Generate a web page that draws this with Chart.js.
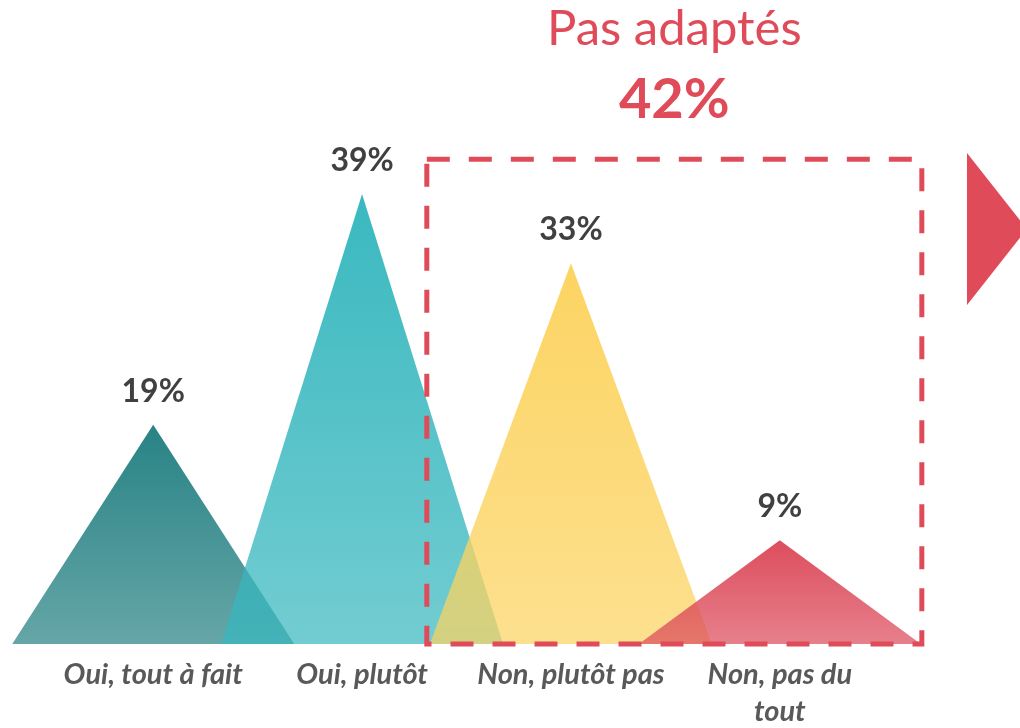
<!DOCTYPE html>
<html>
<head>
<meta charset="utf-8">
<script src="https://cdn.jsdelivr.net/npm/chart.js@4/dist/chart.umd.min.js"></script>
<style>
  html, body { margin: 0; padding: 0; background: #fff; }
  #wrap { width: 1020px; height: 728px; position: relative; }
</style>
</head>
<body>
<div id="wrap"><canvas id="chart"></canvas></div>
<script>
// Data
const categories = ['Oui, tout à fait', 'Oui, plutôt', 'Non, plutôt pas', 'Non, pas du tout'];
const values = [19, 39, 33, 9];
const tickLabels = [['Oui, tout à fait'], ['Oui, plutôt'], ['Non, plutôt pas'], ['Non, pas du', 'tout']];
const highlightTitle = 'Pas adaptés';
const highlightValue = 42;
const highlightFrom = 2; // index of first "Non"
const highlightTo = 3;
const baseColors = ['36,128,130', '54,183,190', '252,211,95', '220,74,90'];

const RED = '#E04B5A';
const HALF_BASE = 0.675; // half width of each peak, in category units

// Build triangle shaped line datasets
const datasets = values.map((v, i) => ({
  label: categories[i],
  data: [
    { x: i - HALF_BASE, y: 0 },
    { x: i, y: v },
    { x: i + HALF_BASE, y: 0 }
  ],
  fill: 'origin',
  borderWidth: 0,
  pointRadius: 0,
  tension: 0,
  order: values.length - i, // right-most peak on top
  backgroundColor: (ctx) => {
    const chart = ctx.chart;
    const { chartArea, scales } = chart;
    if (!chartArea) return `rgba(${baseColors[i]},0.85)`;
    const top = scales.y.getPixelForValue(v);
    const bottom = scales.y.getPixelForValue(0);
    const g = chart.ctx.createLinearGradient(0, top, 0, bottom);
    g.addColorStop(0, `rgba(${baseColors[i]},0.98)`);
    g.addColorStop(1, `rgba(${baseColors[i]},0.7)`);
    return g;
  }
}));

// Labels, highlight box, title and arrow
const decorations = {
  id: 'decorations',
  afterDatasetsDraw(chart) {
    const c = chart.ctx;
    const x = chart.scales.x, y = chart.scales.y;

    // value labels above each apex
    c.save();
    c.fillStyle = '#404040';
    c.font = "bold 32px Lato";
    c.textAlign = 'center';
    c.textBaseline = 'alphabetic';
    values.forEach((v, i) => {
      c.fillText(v + '%', x.getPixelForValue(i), y.getPixelForValue(v) - 23);
    });
    c.restore();

    // dashed box around the "Non" answers
    const left = x.getPixelForValue(highlightFrom - 0.69);
    const right = x.getPixelForValue(highlightTo + 0.68);
    const top = y.getPixelForValue(highlightValue);
    const bottom = y.getPixelForValue(0);
    c.save();
    c.strokeStyle = RED;
    c.lineWidth = 5;
    c.setLineDash([23, 19]);
    c.strokeRect(left, top, right - left, bottom - top);
    c.restore();

    // title above the box
    const cx = (left + right) / 2;
    c.save();
    c.fillStyle = RED;
    c.textAlign = 'center';
    c.textBaseline = 'alphabetic';
    c.font = "49px Lato";
    c.fillText(highlightTitle, cx, 45);
    c.font = "bold 56px Lato";
    c.fillText(highlightValue + '%', cx, 118);
    c.restore();

    // arrow on the right edge
    c.save();
    c.fillStyle = RED;
    c.beginPath();
    c.moveTo(967, 153);
    c.lineTo(1027, 229);
    c.lineTo(967, 305);
    c.closePath();
    c.fill();
    c.restore();
  }
};

new Chart(document.getElementById('chart'), {
  type: 'line',
  data: { datasets: datasets },
  options: {
    responsive: true,
    maintainAspectRatio: false,
    animation: false,
    layout: { padding: { top: 67, left: 7, right: 94, bottom: 0 } },
    plugins: {
      legend: { display: false },
      tooltip: { enabled: false }
    },
    scales: {
      x: {
        type: 'linear',
        min: -0.7,
        max: 3.7,
        grid: { display: false, drawTicks: false },
        border: { display: false },
        afterBuildTicks: (scale) => {
          scale.ticks = categories.map((_, i) => ({ value: i }));
        },
        afterFit: (scale) => { scale.height = 84; },
        ticks: {
          autoSkip: false,
          maxRotation: 0,
          padding: 12,
          color: '#595959',
          font: { family: 'Lato', size: 29, style: 'italic', weight: 'bold', lineHeight: 1.28 },
          callback: (v) => tickLabels[v]
        }
      },
      y: {
        display: false,
        min: 0,
        max: 50
      }
    }
  },
  plugins: [decorations]
});
</script>
</body>
</html>
